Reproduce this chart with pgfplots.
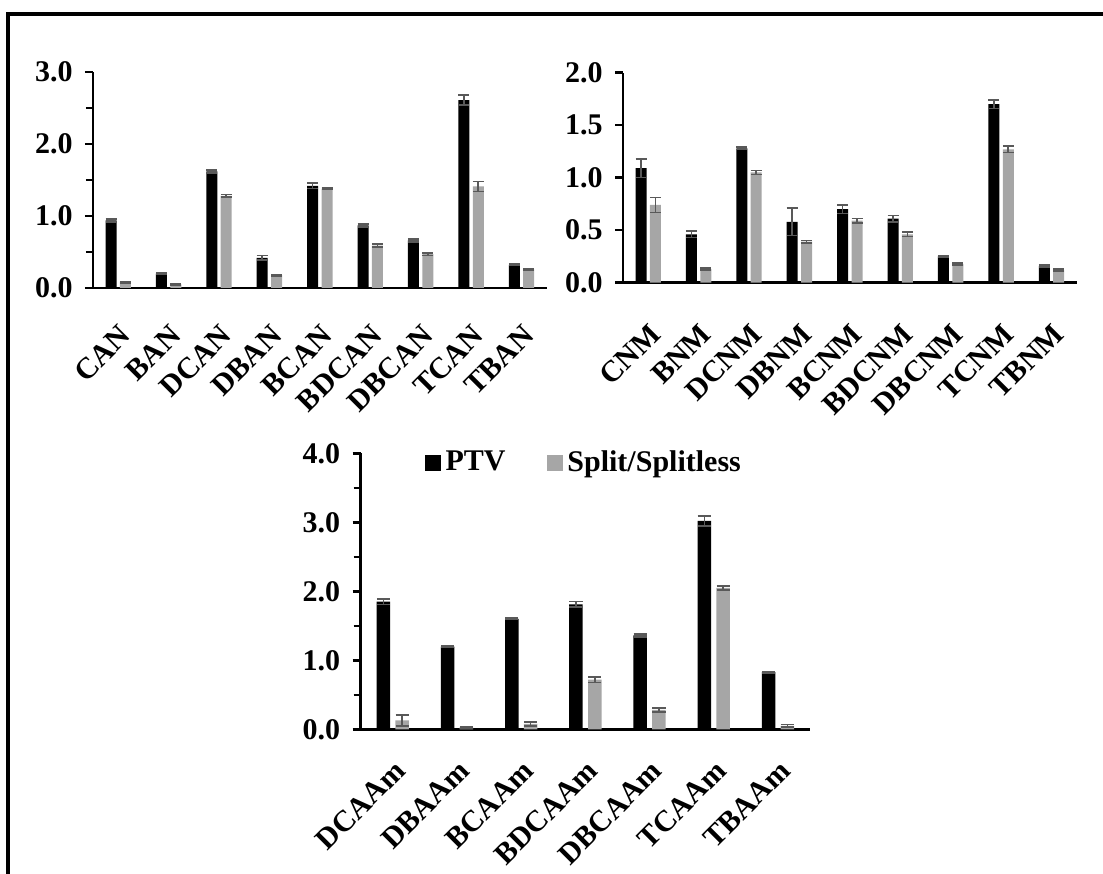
\documentclass[border=0pt]{standalone}
\usepackage{fontspec}
\setmainfont{Liberation Serif}
\usepackage{pgfplots}
\pgfplotsset{compat=1.18}

\definecolor{ssgray}{HTML}{A6A6A6}
\definecolor{errgray}{HTML}{595959}

\pgfplotsset{
  mybars/.style={
    scale only axis,
    axis x line*=bottom, axis y line*=left,
    axis line style={line width=1.3pt, -},
    ymin=0, xmin=-0.5,
    tick align=outside,
    major tick length=4pt, minor tick length=3.5pt,
    every tick/.style={black, line width=1.3pt},
    xtick style={draw=none},
    xtick=data,
    ybar,
    yticklabel style={font=\bfseries\fontsize{15}{18}\selectfont, xshift=-2.7pt},
    /pgf/number format/.cd, fixed, fixed zerofill, precision=1, assume math mode=true,
  },
  xlab/.style={xticklabel shift=#1,
    xticklabel style={font=\bfseries\fontsize{15}{18}\selectfont,
      rotate=45, anchor=north east, inner sep=0pt}},
  ptv/.style 2 args={fill=black, draw=none, bar shift=-#1, forget plot,
    error bars/.cd, y dir=both, y explicit,
    error bar style={errgray, line width=0.8pt},
    error mark options={rotate=90, errgray, mark size=#2, line width=0.8pt}},
  spl/.style 2 args={fill=ssgray, draw=none, bar shift=#1, forget plot,
    error bars/.cd, y dir=both, y explicit,
    error bar style={errgray, line width=0.8pt},
    error mark options={rotate=90, errgray, mark size=#2, line width=0.8pt}},
}

\begin{document}
\begin{tikzpicture}
\path[use as bounding box] (0,0) rectangle (551.5pt,436.5pt);
\draw[line width=2.1pt] (4.15pt,-2pt) -- (4.15pt,429.35pt) -- (553pt,429.35pt);

% top left
\begin{axis}[mybars, xlab=13.5pt, at={(46.5pt,292.5pt)}, anchor=south west,
  width=226.85pt, height=108pt, bar width=5.5pt,
  xmax=8.5, ymax=3, ytick={0,1,2,3}, minor y tick num=1,
  xticklabels={CAN,BAN,DCAN,DBAN,BCAN,BDCAN,DBCAN,TCAN,TBAN}]
\addplot[ptv={3.6pt}{2.75pt}] coordinates {(0,0.94)+-(0,0.02) (1,0.20)+-(0,0.01) (2,1.62)+-(0,0.02) (3,0.42)+-(0,0.03) (4,1.42)+-(0,0.04) (5,0.87)+-(0,0.02) (6,0.66)+-(0,0.02) (7,2.61)+-(0,0.07) (8,0.32)+-(0,0.01)};
\addplot[spl={3.6pt}{2.75pt}] coordinates {(0,0.08)+-(0,0.01) (1,0.05)+-(0,0.01) (2,1.28)+-(0,0.02) (3,0.18)+-(0,0.01) (4,1.38)+-(0,0.01) (5,0.59)+-(0,0.02) (6,0.47)+-(0,0.02) (7,1.41)+-(0,0.07) (8,0.26)+-(0,0.01)};
\end{axis}

% top right
\begin{axis}[mybars, xlab=15.5pt, at={(311.5pt,295.15pt)}, anchor=south west,
  width=226.85pt, height=105pt, bar width=5.5pt,
  xmax=8.5, ymax=2, ytick={0,0.5,1,1.5,2},
  xticklabels={CNM,BNM,DCNM,DBNM,BCNM,BDCNM,DBCNM,TCNM,TBNM}]
\addplot[ptv={3.6pt}{2.75pt}] coordinates {(0,1.09)+-(0,0.09) (1,0.46)+-(0,0.03) (2,1.28)+-(0,0.01) (3,0.58)+-(0,0.13) (4,0.70)+-(0,0.04) (5,0.61)+-(0,0.03) (6,0.25)+-(0,0.01) (7,1.70)+-(0,0.04) (8,0.16)+-(0,0.01)};
\addplot[spl={3.6pt}{2.75pt}] coordinates {(0,0.74)+-(0,0.07) (1,0.13)+-(0,0.01) (2,1.05)+-(0,0.02) (3,0.39)+-(0,0.01) (4,0.59)+-(0,0.02) (5,0.46)+-(0,0.02) (6,0.18)+-(0,0.01) (7,1.27)+-(0,0.03) (8,0.12)+-(0,0.01)};
\end{axis}

% bottom
\begin{axis}[mybars, xlab=10.5pt, at={(180.35pt,71.85pt)}, anchor=south west,
  width=224.65pt, height=138pt, bar width=6.75pt,
  xmax=6.5, ymax=4, ytick={0,1,2,3,4}, minor y tick num=1,
  xticklabels={DCAAm,DBAAm,BCAAm,BDCAAm,DBCAAm,TCAAm,TBAAm},
  legend style={at={(0.5,0.967)}, anchor=center, draw=none, fill=none,
    legend columns=2, font=\bfseries\fontsize{15}{18}\selectfont,
    nodes={inner sep=2.5pt},
    /tikz/every even column/.append style={column sep=18pt},
    legend cell align=left, inner sep=0pt}]
\addlegendimage{legend image code/.code={\fill[black] (0pt,-3.75pt) rectangle (7.5pt,3.75pt);}}
\addlegendentry{PTV}
\addlegendimage{legend image code/.code={\fill[ssgray] (0pt,-3.75pt) rectangle (7.5pt,3.75pt);}}
\addlegendentry{Split/Splitless}
\addplot[ptv={4.7pt}{3.3pt}] coordinates {(0,1.85)+-(0,0.04) (1,1.20)+-(0,0.01) (2,1.60)+-(0,0.01) (3,1.81)+-(0,0.04) (4,1.36)+-(0,0.02) (5,3.02)+-(0,0.07) (6,0.83)+-(0,0.01)};
\addplot[spl={4.7pt}{3.3pt}] coordinates {(0,0.13)+-(0,0.08) (1,0.03)+-(0,0.01) (2,0.08)+-(0,0.03) (3,0.72)+-(0,0.04) (4,0.28)+-(0,0.03) (5,2.05)+-(0,0.03) (6,0.05)+-(0,0.02)};
\end{axis}
\end{tikzpicture}
\end{document}
